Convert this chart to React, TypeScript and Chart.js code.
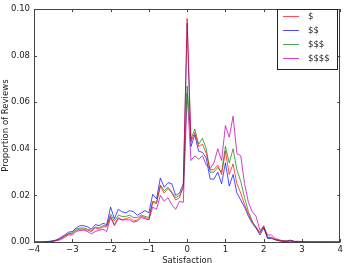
import React, { useEffect, useRef } from "react";
import { Chart, registerables } from "chart.js";

Chart.register(...registerables);

const xs: number[] = [];
for (let i = -40; i <= 40; i++) xs.push(i / 10);

const seriesLabels = ["$", "$$", "$$$", "$$$$"];
const seriesColors = [
  "rgba(255,0,0,0.7)",
  "rgba(0,0,255,0.7)",
  "rgba(0,128,0,0.7)",
  "rgba(191,0,191,0.75)",
];

// x = -4.0 ... 4.0 step 0.1 (81 values)
const red = [
  0, 0, 0, 0.0001, 0.0002, 0.0003, 0.0008, 0.0015, 0.0025, 0.0035,
  0.0035, 0.005, 0.0055, 0.0055, 0.005, 0.0045, 0.006, 0.0055, 0.0065, 0.0065,
  0.011, 0.0075, 0.0105, 0.0095, 0.01, 0.0105, 0.009, 0.0095, 0.011, 0.0105,
  0.0095, 0.017, 0.0165, 0.024, 0.021, 0.023, 0.021, 0.018, 0.019, 0.024,
  0.096, 0.043, 0.047, 0.041, 0.042, 0.038, 0.031, 0.031, 0.033, 0.029,
  0.039, 0.029, 0.0335, 0.025, 0.021, 0.016, 0.012, 0.0085, 0.0065, 0.004,
  0.007, 0.002, 0.0018, 0.001, 0.0006, 0.0004, 0.0003, 0.0005, 0.0002, 0.0001,
  0.0001, 0, 0, 0, 0, 0, 0, 0, 0, 0, 0,
];
const blue = [
  0, 0, 0, 0.0001, 0.0003, 0.0005, 0.001, 0.002, 0.003, 0.0042,
  0.0045, 0.006, 0.007, 0.007, 0.0065, 0.0055, 0.0075, 0.007, 0.008, 0.0075,
  0.015, 0.01, 0.014, 0.013, 0.0125, 0.0135, 0.013, 0.0115, 0.0125, 0.0135,
  0.0125, 0.0205, 0.0185, 0.0275, 0.0235, 0.0255, 0.025, 0.02, 0.021, 0.025,
  0.094, 0.041, 0.046, 0.039, 0.0385, 0.036, 0.027, 0.027, 0.03, 0.025,
  0.034, 0.024, 0.029, 0.021, 0.018, 0.015, 0.011, 0.008, 0.006, 0.003,
  0.006, 0.0015, 0.0015, 0.001, 0.0005, 0.0003, 0.0003, 0.0005, 0.0002, 0.0001,
  0.0001, 0, 0, 0, 0, 0, 0, 0, 0, 0, 0,
];
const green = [
  0, 0, 0, 0.0001, 0.0002, 0.0004, 0.0008, 0.0015, 0.0025, 0.0035,
  0.004, 0.0055, 0.006, 0.006, 0.0055, 0.005, 0.0065, 0.006, 0.007, 0.007,
  0.012, 0.009, 0.0115, 0.011, 0.011, 0.0115, 0.0105, 0.0105, 0.0115, 0.011,
  0.0105, 0.0175, 0.017, 0.0245, 0.022, 0.0235, 0.0215, 0.019, 0.02, 0.023,
  0.067, 0.044, 0.0485, 0.042, 0.0445, 0.04, 0.03, 0.03, 0.032, 0.03,
  0.041, 0.034, 0.04, 0.031, 0.026, 0.019, 0.013, 0.009, 0.006, 0.004,
  0.0065, 0.002, 0.002, 0.001, 0.0007, 0.0004, 0.0003, 0.0005, 0.0002, 0.0001,
  0.0001, 0, 0, 0, 0, 0, 0, 0, 0, 0, 0,
];
const magenta = [
  0, 0, 0, 0.0001, 0.0002, 0.0003, 0.0006, 0.001, 0.002, 0.003,
  0.003, 0.0045, 0.005, 0.005, 0.0045, 0.0035, 0.0045, 0.005, 0.0055, 0.0045,
  0.0105, 0.007, 0.01, 0.0095, 0.0095, 0.0095, 0.0085, 0.009, 0.0105, 0.01,
  0.0095, 0.015, 0.014, 0.02, 0.0175, 0.019, 0.016, 0.014, 0.0175, 0.017,
  0.064, 0.035, 0.037, 0.0355, 0.037, 0.033, 0.0315, 0.034, 0.04, 0.035,
  0.05, 0.045, 0.054, 0.038, 0.037, 0.025, 0.017, 0.013, 0.011, 0.005,
  0.0065, 0.003, 0.003, 0.0015, 0.001, 0.0005, 0.0005, 0.0008, 0.0003, 0.0003,
  0.0002, 0.0001, 0, 0, 0, 0, 0, 0, 0, 0, 0,
];
const allSeries = [red, blue, green, magenta];

const xTicks = [-4, -3, -2, -1, 0, 1, 2, 3, 4];
const yTicks = [0, 0.02, 0.04, 0.06, 0.08, 0.1];
const xTitle = "Satisfaction";
const yTitle = "Proportion of Reviews";

const FONT = "DejaVu Sans";
const FS = 8.5;

const framePlugin = {
  id: "frame",
  afterDraw(chart: any) {
    const { ctx, chartArea } = chart;
    const { left, right, top, bottom } = chartArea;
    const xs_ = chart.scales.x;
    const ys_ = chart.scales.y;
    ctx.save();
    ctx.strokeStyle = "#444";
    ctx.lineWidth = 1;
    ctx.strokeRect(Math.round(left) + 0.5, Math.round(top) + 0.5, Math.round(right - left) - 1, Math.round(bottom - top));
    const tl = 3;
    ctx.beginPath();
    xTicks.forEach((v) => {
      const px = Math.round(xs_.getPixelForValue(v)) + 0.5;
      ctx.moveTo(px, bottom);
      ctx.lineTo(px, bottom - tl);
      ctx.moveTo(px, top);
      ctx.lineTo(px, top + tl);
    });
    yTicks.forEach((v) => {
      const py = Math.round(ys_.getPixelForValue(v)) + 0.5;
      ctx.moveTo(left, py);
      ctx.lineTo(left + tl, py);
      ctx.moveTo(right, py);
      ctx.lineTo(right - tl, py);
    });
    ctx.stroke();

    // axis titles
    ctx.fillStyle = "#222";
    ctx.font = `${FS}px "${FONT}"`;
    ctx.textAlign = "center";
    ctx.textBaseline = "middle";
    ctx.fillText(xTitle, (left + right) / 2, 261);
    ctx.save();
    ctx.translate(5.5, (top + bottom) / 2);
    ctx.rotate(-Math.PI / 2);
    ctx.fillText(yTitle, 0, 0);
    ctx.restore();

    // legend
    const lx = 277.5, ly = 9.5, lw = 60, lh = 60;
    ctx.fillStyle = "#fff";
    ctx.fillRect(lx, ly, lw, lh);
    ctx.strokeStyle = "#222";
    ctx.strokeRect(lx, ly, lw, lh);
    ctx.textAlign = "left";
    seriesLabels.forEach((lab, i) => {
      const y = 16 + i * 14;
      ctx.strokeStyle = seriesColors[i];
      ctx.beginPath();
      ctx.moveTo(283, y + 0.5);
      ctx.lineTo(299, y + 0.5);
      ctx.stroke();
      ctx.fillStyle = "#222";
      ctx.fillText(lab, 308, y + 1);
    });
    ctx.restore();
  },
};

export default function App() {
  const ref = useRef<HTMLCanvasElement>(null);
  useEffect(() => {
    document.body.style.margin = "0";
    const canvas = ref.current!;
    const chart = new Chart(canvas, {
      type: "line",
      data: {
        datasets: allSeries.map((s, i) => ({
          label: seriesLabels[i],
          data: xs.map((x, j) => ({ x, y: s[j] })),
          borderColor: seriesColors[i],
          backgroundColor: seriesColors[i],
          borderWidth: 1,
          pointRadius: 0,
          tension: 0,
          fill: false,
        })),
      },
      options: {
        animation: false,
        responsive: false,
        devicePixelRatio: 1,
        layout: { padding: { left: 0, right: 5, top: 4, bottom: 0 }, autoPadding: false },
        plugins: { legend: { display: false }, tooltip: { enabled: false } },
        scales: {
          x: {
            type: "linear",
            min: -4,
            max: 4,
            grid: { display: false, drawTicks: false },
            border: { display: false },
            ticks: {
              stepSize: 1,
              padding: 3,
              maxRotation: 0,
              color: "#222",
              font: { family: FONT, size: FS },
              callback: (v: any) => (Number(v) < 0 ? "\u2212" + Math.abs(Number(v)) : String(v)),
            },
            afterFit: (s: any) => {
              s.height = 21;
            },
          },
          y: {
            min: 0,
            max: 0.1,
            grid: { display: false, drawTicks: false },
            border: { display: false },
            ticks: {
              stepSize: 0.02,
              padding: 4,
              color: "#222",
              font: { family: FONT, size: FS },
              callback: (v: any) => Number(v).toFixed(2),
            },
            afterFit: (s: any) => {
              s.width = 34;
            },
          },
        },
      },
      plugins: [framePlugin],
    });
    return () => chart.destroy();
  }, []);
  return (
    <div style={{ position: "fixed", left: 0, top: 0, width: 346, height: 263, background: "#fff" }}>
      <canvas ref={ref} width={346} height={263} />
    </div>
  );
}
